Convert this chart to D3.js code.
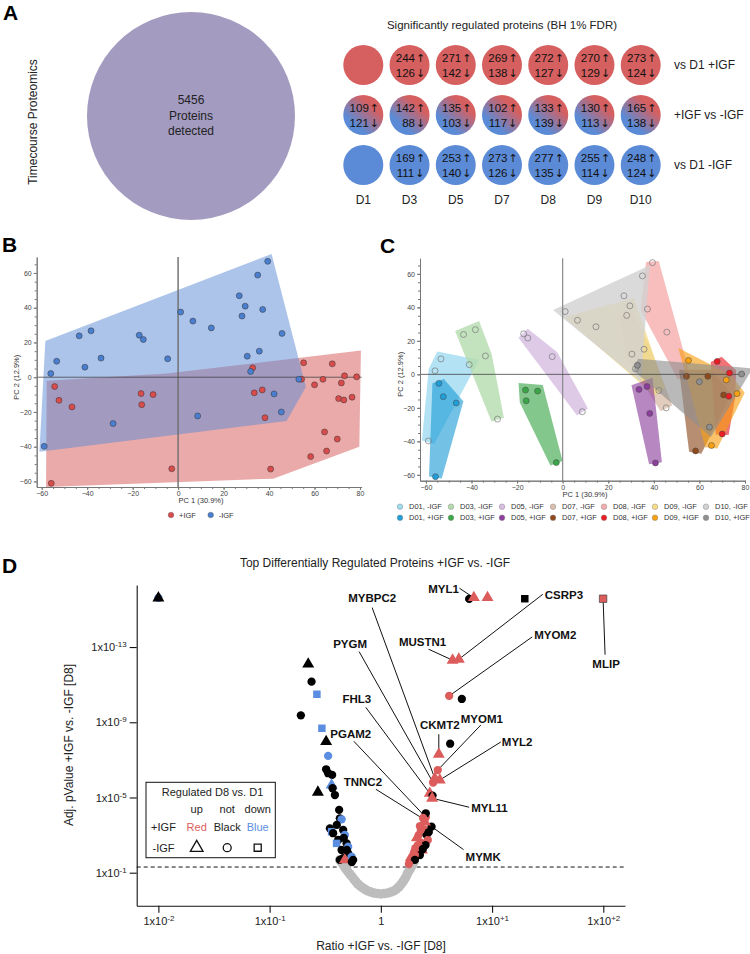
<!DOCTYPE html>
<html>
<head>
<meta charset="utf-8">
<script src="https://cdn.jsdelivr.net/npm/d3@7"></script>
<style>
  body { margin: 0; background: #fff; }
  svg { font-family: "Liberation Sans", Arial, Helvetica, sans-serif; }
</style>
</head>
<body>
<div></div>
<script>
const w = 750;
const h = 954;

// ---------- panel A data
const days = ['D1', 'D3', 'D5', 'D7', 'D8', 'D9', 'D10'];
const rowLabels = ['vs D1 +IGF', '+IGF vs -IGF', 'vs D1 -IGF'];
const upPlus = [null, 244, 271, 269, 272, 270, 273];
const downPlus = [null, 126, 142, 138, 127, 129, 124];
const upCompare = [109, 142, 135, 102, 133, 130, 165];
const downCompare = [121, 88, 103, 117, 139, 113, 138];
const upMinus = [null, 169, 253, 273, 277, 255, 248];
const downMinus = [null, 111, 140, 126, 135, 114, 124];
const proteinsDetected = 5456;

// ---------- panel B / C data (PC1, PC2 per day, 4 replicates)
const pcaDays = ['D01', 'D03', 'D05', 'D07', 'D08', 'D09', 'D10'];
const pc1Minus = [
  [-58.9, -56, -53.4, -41],
  [-43.5, -38.3, -33.9, -28.6],
  [-17.1, -15.3, -4.6, 8.6],
  [28.1, 30.4, 35.7, 45.4],
  [39.4, 37.2, 45.7, 53.1],
  [6.5, 14.6, 29.5, 42.2],
  [1.1, 26.9, 35, 31.9]
];
const pc2Minus = [
  [-39.8, 2.1, 9.2, 5.8],
  [23.8, 26.7, 11, -26.7],
  [24.2, 21.7, 10.6, -22.3],
  [35.2, 12.1, 15, -20],
  [66.7, 39, 25.2, -1.2],
  [32.3, 28.4, 40.9, -9.6],
  [37.5, 46.9, 58.8, 3.3]
];
const pc1Plus = [
  [-54.3, -52.4, -46.7, -55.8],
  [-16.3, -16, -11, -2.8],
  [33.5, 37, 38.2, 40.7],
  [54.3, 58.3, 63.7, 70.6],
  [67.8, 73.2, 72.9, 70],
  [55.2, 71.8, 76.5, 65.3],
  [32.8, 60, 64.4, 78.5]
];
const pc2Plus = [
  [-5.4, -13.3, -17.1, -61.1],
  [-9.4, -15.8, -10, -52.7],
  [-9, -7.3, -23.3, -52.9],
  [-1.2, -45.7, -1.2, -12.3],
  [7.7, 0.8, -13.1, -35.6],
  [8.3, -3.3, -11.5, -42.5],
  [5.4, -4.4, -31.5, 0.2]
];
// group outlines of panel B
const hullMinusPC1 = [-58.4, 41.1, 56.2, 47.7, -61];
const hullMinusPC2 = [20.8, 70.9, -5.6, -25.2, -42.9];
const hullPlusPC1 = [-57.8, -5, 80.4, 79.7, 41.8, -58.1];
const hullPlusPC2 = [-2.1, 2.1, 15.4, -40, -58.4, -63.2];

// ---------- panel D data (log10 ratio, -log10 adj. p, regulation +IGF / -IGF)
const nsLogRatio = [-0.369, -0.355, -0.342, -0.328, -0.315, -0.297, -0.279, -0.261, -0.243, -0.225, -0.207,
  -0.185, -0.162, -0.14, -0.117, -0.09, -0.063, -0.03, 0,
  0.03, 0.063, 0.09, 0.117, 0.14, 0.162, 0.18, 0.198, 0.212, 0.225, 0.238, 0.252, 0.266, 0.279, 0.297];
const nsNegLogP = [1.68, 1.57, 1.46, 1.33, 1.2, 1.06, 0.93, 0.8, 0.66, 0.53, 0.4,
  0.29, 0.19, 0.1, 0.03, -0.03, -0.08, -0.11, -0.13,
  -0.11, -0.08, -0.03, 0.03, 0.13, 0.24, 0.37, 0.51, 0.64, 0.77, 0.93, 1.09, 1.22, 1.36, 1.57];

const sigLogRatio = [-2.0, -2.0, -0.653, -0.623, -0.575, -0.719, -0.53, -0.492, -0.474, -0.492, -0.474, -0.438,
  -0.566, -0.443, -0.434, -0.413, -0.375, -0.369, -0.353, -0.458, -0.339, -0.443, -0.429, -0.324, -0.384,
  -0.308, -0.398, -0.353, -0.294, -0.294, -0.339, -0.263, -0.249, -0.369, -0.324, -0.396, -0.333, -0.306, -0.261,
  0.794, 0.836, 0.959, 1.294, 1.998, 0.645, 0.701, 0.614, 0.728, 0.623, 0.521, 0.512, 0.485, 0.53, 0.47,
  0.44, 0.465, 0.461,
  0.387, 0.404, 0.34, 0.36, 0.3, 0.27, 0.39, 0.31,
  0.404, 0.38, 0.456, 0.396, 0.411, 0.36, 0.422, 0.402, 0.333, 0.369, 0.351, 0.306, 0.279, 0.306, 0.252,
  0.324, 0.351, 0.378, 0.431];
const sigNegLogP = [15.61, 15.61, 12.09, 11.16, 10.49, 9.37, 8.68, 7.97, 7.21, 6.5, 6.29, 6.2,
  5.28, 5.66, 5.49, 5.13, 4.34, 3.89, 3.84, 3.36, 3.27, 3.18, 3.1, 3.01, 2.74,
  2.56, 2.56, 2.21, 2.38, 2.03, 1.77, 1.85, 1.68, 1.68, 1.68, 3.54, 2.85, 2.21, 1.57,
  15.56, 15.63, 15.63, 15.57, 15.57, 12.3, 12.35, 10.4, 10.24, 7.86, 7.3, 6.46, 6.02, 5.93, 5.79,
  5.22, 5.1, 4.96,
  3.84, 3.95, 3.0, 2.6, 2.1, 1.8, 3.3, 2.3,
  4.16, 3.91, 3.45, 3.7, 3.01, 3.28, 2.74, 2.47, 2.47, 2.21, 1.94, 1.94, 1.68, 1.68, 1.46,
  2.85, 3.48, 2.26, 3.16];
const sigPlusReg = ['down', 'not', 'not', 'not', 'down', 'not', 'down', 'not', 'down', 'not', 'not', 'not',
  'not', 'down', 'not', 'not', 'not', 'not', 'down', 'not', 'not', 'down', 'not', 'down', 'not',
  'not', 'down', 'not', 'down', 'not', 'not', 'down', 'not', 'not', 'up', 'not', 'not', 'not', 'not',
  'not', 'up', 'up', 'not', 'up', 'up', 'up', 'up', 'not', 'not', 'up', 'up', 'up', 'up', 'up',
  'up', 'not', 'up',
  'up', 'up', 'up', 'up', 'up', 'up', 'up', 'up',
  'not', 'up', 'not', 'up', 'not', 'up', 'up', 'not', 'up', 'up', 'not', 'up', 'up', 'not', 'up',
  'up', 'up', 'not', 'not'];
const sigMinusReg = ['not', 'up', 'up', 'not', 'down', 'not', 'down', 'up', 'not', 'not', 'not', 'not',
  'up', 'up', 'not', 'not', 'not', 'not', 'not', 'not', 'not', 'down', 'not', 'not', 'not',
  'not', 'down', 'not', 'not', 'not', 'not', 'not', 'not', 'not', 'up', 'not', 'not', 'not', 'not',
  'not', 'up', 'up', 'down', 'down', 'up', 'up', 'not', 'not', 'not', 'up', 'not', 'up', 'up', 'not',
  'up', 'not', 'up',
  'not', 'not', 'not', 'not', 'not', 'up', 'not', 'not',
  'not', 'not', 'not', 'up', 'not', 'not', 'not', 'not', 'not', 'up', 'not', 'not', 'not', 'not', 'not',
  'up', 'not', 'not', 'not'];

const geneNames = ['MYBPC2', 'PYGM', 'FHL3', 'PGAM2', 'TNNC2', 'MYL1', 'CSRP3', 'MUSTN1', 'MYOM2', 'MLIP',
  'CKMT2', 'MYOM1', 'MYL2', 'MYL11', 'MYMK'];
const geneLogRatio = [0.479, 0.47, 0.44, 0.404, 0.387, 0.815, 0.701, 0.645, 0.614, 1.998,
  0.521, 0.512, 0.53, 0.461, 0.456];
const geneNegLogP = [6.11, 5.79, 5.22, 3.95, 3.84, 15.7, 12.35, 12.3, 10.4, 15.57,
  7.3, 6.46, 5.93, 4.96, 3.45];

// ---------- layout of gene labels: text offset, anchor, line start offset (px from point)
const geneLayout = [
  [-62, -179, 'middle', -62, -169], [-83, -139, 'middle', -74, -131], [-73, -94, 'middle', -64, -86],
  [-75, -83, 'middle', -72, -76], [-61, -37, 'middle', -48, -30], [-28, -7, 'middle', -12, -8],
  [86, -64, 'start', 84, -65], [-30, -18, 'middle', -24, -11], [85, -61, 'start', 83, -59],
  [3, 65, 'middle', 2, 56], [1, -29, 'middle', 0, -20], [44, -51, 'middle', 43, -45],
  [62, -38, 'start', 61, -38], [39, 10, 'start', 37, 9], [34, 30, 'start', 32, 23]
];

const red = '#d65f5f';
const blue = '#5b8bd6';

const svg = d3.select('body').select('div').append('svg')
  .attr('width', w).attr('height', h);

// panel letters
[['A', 3, 20], ['B', 2, 252], ['C', 380, 253], ['D', 2, 573]].forEach(([t, x, y]) => {
  svg.append('text').attr('x', x).attr('y', y).attr('font-size', 21).attr('font-weight', 'bold').text(t);
});

// ================= A
svg.append('text')
  .attr('transform', 'translate(37,122) rotate(-90)')
  .attr('text-anchor', 'middle').attr('font-size', 12).attr('fill', '#222')
  .text('Timecourse Proteomics');

svg.append('circle').attr('cx', 191).attr('cy', 116).attr('r', 104).attr('fill', '#a39bc0');
['' + proteinsDetected, 'Proteins', 'detected'].forEach((t, i) => {
  svg.append('text').attr('x', 191).attr('y', 104 + i * 15.5)
    .attr('text-anchor', 'middle').attr('font-size', 12).attr('fill', '#222').text(t);
});

const defs = svg.append('defs');
const grad = defs.append('linearGradient').attr('id', 'mix')
  .attr('x1', '85%').attr('y1', '10%').attr('x2', '15%').attr('y2', '90%');
grad.append('stop').attr('offset', '0.2').attr('stop-color', red);
grad.append('stop').attr('offset', '0.8').attr('stop-color', blue);

const colX = d3.scalePoint().domain(days).range([363.3, 640.7]);
const rowY = d3.scalePoint().domain(rowLabels).range([65, 165]);
const rows = [
  { label: rowLabels[0], fill: red, up: upPlus, down: downPlus },
  { label: rowLabels[1], fill: 'url(#mix)', up: upCompare, down: downCompare },
  { label: rowLabels[2], fill: blue, up: upMinus, down: downMinus }
];

svg.append('text').attr('x', 502).attr('y', 29).attr('text-anchor', 'middle')
  .attr('font-size', 11.5).attr('fill', '#222').text('Significantly regulated proteins (BH 1% FDR)');

function countLabel(g, x, y, n, arrow) {
  const t = g.append('text').attr('x', x).attr('y', y).attr('dy', '0.35em')
    .attr('text-anchor', 'middle').attr('font-size', 11.5).attr('fill', '#111');
  t.append('tspan').text((n < 100 ? '\u2007' : '') + n);
  t.append('tspan').attr('font-family', '"DejaVu Sans", sans-serif').attr('font-size', 11)
    .attr('dx', 1).text(arrow);
}

rows.forEach((row) => {
  const g = svg.append('g');
  g.selectAll('circle').data(days).enter().append('circle')
    .attr('cx', (d) => colX(d)).attr('cy', rowY(row.label)).attr('r', 20)
    .attr('fill', row.fill);
  days.forEach((d, i) => {
    if (row.up[i] === null) return;
    countLabel(g, colX(d) + 1, rowY(row.label) - 7.5, row.up[i], '\u2191');
    countLabel(g, colX(d) + 1, rowY(row.label) + 7.5, row.down[i], '\u2193');
  });
  g.append('text').attr('x', 674).attr('y', rowY(row.label)).attr('dy', '0.35em')
    .attr('font-size', 12).attr('fill', '#222').text(row.label);
});
svg.selectAll('.daylab').data(days).enter().append('text')
  .attr('x', (d) => colX(d)).attr('y', 200).attr('dy', '0.35em')
  .attr('text-anchor', 'middle').attr('font-size', 12).attr('fill', '#222').text((d) => d);

// ================= helpers for B / C
function pcaAxes(g, x, y) {
  const xr = x.range();
  const yr = y.range();
  g.append('g').attr('transform', `translate(0,${yr[0]})`)
    .call(d3.axisBottom(x).tickValues(d3.range(-60, 81, 5)).tickSize(2).tickFormat('').tickSizeOuter(0));
  g.append('g').attr('transform', `translate(0,${yr[0]})`)
    .call(d3.axisBottom(x).tickValues(d3.range(-60, 81, 20)).tickSize(3).tickPadding(1).tickSizeOuter(0));
  g.append('g').attr('transform', `translate(${xr[0]},0)`)
    .call(d3.axisLeft(y).tickValues(d3.range(-60, 66, 5)).tickSize(2).tickFormat('').tickSizeOuter(0));
  g.append('g').attr('transform', `translate(${xr[0]},0)`)
    .call(d3.axisLeft(y).tickValues(d3.range(-60, 61, 20)).tickSize(3).tickPadding(2).tickSizeOuter(0));
  g.selectAll('.domain, .tick line').attr('stroke', '#777');
  g.selectAll('.tick text').attr('font-size', 7).attr('fill', '#444')
    .attr('font-family', '"Liberation Sans", Arial, sans-serif');
}

function zeroLines(g, x, y, vColor, vWidth) {
  g.append('line').attr('x1', x(0)).attr('x2', x(0))
    .attr('y1', y.range()[1]).attr('y2', y.range()[0])
    .attr('stroke', vColor).attr('stroke-width', vWidth);
  g.append('line').attr('x1', x.range()[0]).attr('x2', x.range()[1])
    .attr('y1', y(0)).attr('y2', y(0)).attr('stroke', '#444').attr('stroke-width', 0.8);
}

// ================= B
const xB = d3.scaleLinear().domain([-62.2, 80.7]).range([36.7, 361.6]);
const yB = d3.scaleLinear().domain([-63.2, 69.2]).range([487, 257]);
const gB = svg.append('g');
const line = d3.line().x((d) => xB(d[0])).y((d) => yB(d[1]));
gB.append('path').attr('d', line(d3.zip(hullPlusPC1, hullPlusPC2)) + 'Z')
  .attr('fill', '#d65555').attr('opacity', 0.5);
gB.append('path').attr('d', line(d3.zip(hullMinusPC1, hullMinusPC2)) + 'Z')
  .attr('fill', '#5b8ad6').attr('opacity', 0.5);
zeroLines(gB, xB, yB, 'rgba(110,110,110,0.8)', 1.8);
pcaAxes(gB, xB, yB);

const minusPts = d3.merge(pc1Minus.map((xs, i) => xs.map((v, j) => [v, pc2Minus[i][j]])));
const plusPts = d3.merge(pc1Plus.map((xs, i) => xs.map((v, j) => [v, pc2Plus[i][j]])));
[[plusPts, '#d94c4c'], [minusPts, '#4a7fd0']].forEach(([pts, c]) => {
  gB.append('g').selectAll('circle').data(pts).enter().append('circle')
    .attr('cx', (d) => xB(d[0])).attr('cy', (d) => yB(d[1])).attr('r', 3)
    .attr('fill', c).attr('stroke', '#333').attr('stroke-width', 0.5);
});
gB.append('text').attr('x', 201).attr('y', 503).attr('text-anchor', 'middle')
  .attr('font-size', 7.5).attr('fill', '#333').text('PC 1 (30.9%)');
gB.append('text').attr('transform', `translate(19,${yB(0)}) rotate(-90)`).attr('text-anchor', 'middle')
  .attr('font-size', 7.5).attr('fill', '#333').text('PC 2 (12.9%)');
[['+IGF', '#d94c4c', 171], ['-IGF', '#4a7fd0', 210.7]].forEach(([t, c, x]) => {
  gB.append('circle').attr('cx', x).attr('cy', 515).attr('r', 2.8).attr('fill', c)
    .attr('stroke', '#555').attr('stroke-width', 0.4);
  gB.append('text').attr('x', x + 8).attr('y', 515).attr('dy', '0.35em')
    .attr('font-size', 7.5).attr('fill', '#333').text(t);
});

// ================= C
const xC = d3.scaleLinear().domain([-62.6, 80]).range([420, 745]);
const yC = d3.scaleLinear().domain([-63.5, 69.3]).range([480.7, 258.3]);
const gC = svg.append('g');
const plusColors = ['#1f9ed8', '#3aa648', '#8c3f9c', '#8e4a1c', '#ea1c24', '#f7a010', '#8f8f8f'];
const minusColors = ['#9fdcf2', '#b5dcae', '#d7bde2', '#dcc0ad', '#f7adad', '#f6dd86', '#d2d2d2'];

function hullPath(xs, ys) {
  const hull = d3.polygonHull(xs.map((v, i) => [xC(v), yC(ys[i])]));
  return 'M' + hull.join('L') + 'Z';
}
pcaDays.forEach((d, i) => {
  gC.append('path').attr('d', hullPath(pc1Minus[i], pc2Minus[i]))
    .attr('fill', minusColors[i]).attr('stroke', minusColors[i]).attr('stroke-width', 13)
    .attr('stroke-linejoin', 'miter').attr('stroke-miterlimit', 2.5).attr('opacity', 0.8);
});
pcaDays.forEach((d, i) => {
  gC.append('path').attr('d', hullPath(pc1Plus[i], pc2Plus[i]))
    .attr('fill', plusColors[i]).attr('stroke', plusColors[i]).attr('stroke-width', 13)
    .attr('stroke-linejoin', 'miter').attr('stroke-miterlimit', 2.5).attr('opacity', 0.62);
});
zeroLines(gC, xC, yC, '#888', 1.2);
pcaAxes(gC, xC, yC);
pcaDays.forEach((d, i) => {
  gC.append('g').selectAll('circle').data(d3.zip(pc1Minus[i], pc2Minus[i])).enter().append('circle')
    .attr('cx', (p) => xC(p[0])).attr('cy', (p) => yC(p[1])).attr('r', 3)
    .attr('fill', 'none').attr('stroke', '#777').attr('stroke-width', 0.7);
  gC.append('g').selectAll('circle').data(d3.zip(pc1Plus[i], pc2Plus[i])).enter().append('circle')
    .attr('cx', (p) => xC(p[0])).attr('cy', (p) => yC(p[1])).attr('r', 3)
    .attr('fill', plusColors[i]).attr('stroke', '#444').attr('stroke-width', 0.5);
});
gC.append('text').attr('x', 585).attr('y', 497).attr('text-anchor', 'middle')
  .attr('font-size', 7.5).attr('fill', '#333').text('PC 1 (30.9%)');
gC.append('text').attr('transform', `translate(403,${yC(0)}) rotate(-90)`).attr('text-anchor', 'middle')
  .attr('font-size', 7.5).attr('fill', '#333').text('PC 2 (12.9%)');
const legX = d3.scalePoint().domain(pcaDays).range([400, 706]);
pcaDays.forEach((d, i) => {
  [[minusColors[i], ', -IGF', 506.7], [plusColors[i], ', +IGF', 517.7]].forEach(([c, s, y]) => {
    gC.append('circle').attr('cx', legX(d)).attr('cy', y).attr('r', 2.8).attr('fill', c)
      .attr('stroke', '#777').attr('stroke-width', 0.4);
    gC.append('text').attr('x', legX(d) + 9).attr('y', y).attr('dy', '0.35em')
      .attr('font-size', 7.5).attr('fill', '#333').text(d + s);
  });
});

// ================= D
const xD = d3.scaleLinear().domain([-2.195, 2.195]).range([136.7, 625]);
const yD = d3.scaleLinear().domain([-0.755, 16.3]).range([905.7, 585]);
const gD = svg.append('g');

svg.append('text').attr('x', 375).attr('y', 567).attr('text-anchor', 'middle')
  .attr('font-size', 12).attr('fill', '#222').text('Top Differentially Regulated Proteins +IGF vs. -IGF');

function sciLabel(sel, exp, plusSign) {
  sel.each(function () {
    const t = d3.select(this);
    t.text(null);
    if (exp(t.datum()) === 0) { t.text('1'); return; }
    const e = exp(t.datum());
    t.append('tspan').text('1x10');
    t.append('tspan').attr('dy', '-0.5em').attr('font-size', 8)
      .text((e > 0 && plusSign ? '+' : '') + e);
  });
}

const xAxisD = gD.append('g').attr('transform', `translate(0,${yD.range()[0]})`)
  .call(d3.axisBottom(xD).tickValues([-2, -1, 0, 1, 2]).tickSize(7).tickPadding(5).tickSizeOuter(0));
xAxisD.selectAll('.tick text').call(sciLabel, (d) => d, true);
const yAxisD = gD.append('g').attr('transform', `translate(${xD.range()[0]},0)`)
  .call(d3.axisLeft(yD).tickValues([1, 5, 9, 13]).tickSize(7).tickPadding(3).tickSizeOuter(0));
yAxisD.selectAll('.tick text').call(sciLabel, (d) => -d, false);
gD.selectAll('.domain, .tick line').attr('stroke', '#111').attr('stroke-width', 1.1);
gD.selectAll('.tick text').attr('font-size', 11).attr('fill', '#222')
  .attr('font-family', '"Liberation Sans", Arial, sans-serif');

gD.append('text').attr('transform', 'translate(73,745) rotate(-90)').attr('text-anchor', 'middle')
  .attr('font-size', 12).attr('fill', '#222').text('Adj. pValue +IGF vs. -IGF [D8]');
gD.append('text').attr('x', 381).attr('y', 950).attr('text-anchor', 'middle')
  .attr('font-size', 12).attr('fill', '#222').text('Ratio +IGF vs. -IGF [D8]');

// threshold
gD.append('line').attr('x1', xD.range()[0]).attr('x2', xD.range()[1])
  .attr('y1', yD(-Math.log10(0.05))).attr('y2', yD(-Math.log10(0.05)))
  .attr('stroke', '#111').attr('stroke-width', 1).attr('stroke-dasharray', '4,3');

// non significant
gD.append('g').selectAll('circle').data(d3.zip(nsLogRatio, nsNegLogP)).enter().append('circle')
  .attr('cx', (d) => xD(d[0])).attr('cy', (d) => yD(d[1])).attr('r', 4.8).attr('fill', '#bdbdbd');

// gene label lines (under points)
const genes = geneNames.map((n, i) => ({ name: n, x: xD(geneLogRatio[i]), y: yD(geneNegLogP[i]), lay: geneLayout[i] }));
gD.append('g').selectAll('line').data(genes).enter().append('line')
  .attr('x1', (d) => d.x + d.lay[3]).attr('y1', (d) => d.y + d.lay[4])
  .attr('x2', (d) => d.x).attr('y2', (d) => d.y)
  .attr('stroke', '#111').attr('stroke-width', 1);

const shapeOf = { up: d3.symbolTriangle, not: d3.symbolCircle, down: d3.symbolSquare };
const sizeOf = { up: 62, not: 54, down: 56 };
const colorOf = { up: '#dc5c5c', not: '#000', down: '#5b8ee0' };
const sig = sigLogRatio.map((v, i) => ({ x: v, y: sigNegLogP[i], plus: sigPlusReg[i], minus: sigMinusReg[i] }));
gD.append('g').selectAll('path').data(sig).enter().append('path')
  .attr('transform', (d) => `translate(${xD(d.x)},${yD(d.y)})`)
  .attr('d', (d) => d3.symbol(shapeOf[d.minus], sizeOf[d.minus])())
  .attr('fill', (d) => colorOf[d.plus])
  .attr('stroke', (d) => (d.minus === 'down' && d.plus === 'up' ? '#333' : 'none'))
  .attr('stroke-width', 0.6);

gD.append('g').selectAll('text').data(genes).enter().append('text')
  .attr('x', (d) => d.x + d.lay[0]).attr('y', (d) => d.y + d.lay[1]).attr('dy', '0.35em')
  .attr('text-anchor', (d) => d.lay[2])
  .attr('font-size', 11.5).attr('font-weight', 'bold').attr('fill', '#111')
  .text((d) => d.name);

// legend
const lg = gD.append('g');
lg.append('rect').attr('x', 146).attr('y', 782.3).attr('width', 129.3).attr('height', 75.4)
  .attr('fill', '#fff').attr('stroke', '#111').attr('stroke-width', 1);
const legCols = ['up', 'not', 'down'];
const legColX = d3.scalePoint().domain(legCols).range([196.7, 257.7]);
lg.append('text').attr('x', 212.5).attr('y', 792.5).attr('dy', '0.35em').attr('text-anchor', 'middle')
  .attr('font-size', 11).attr('fill', '#222').text('Regulated D8 vs. D1');
legCols.forEach((c) => {
  lg.append('text').attr('x', legColX(c)).attr('y', 809).attr('dy', '0.35em').attr('text-anchor', 'middle')
    .attr('font-size', 11).attr('fill', '#222').text(c);
  lg.append('text').attr('x', legColX(c)).attr('y', 827.3).attr('dy', '0.35em').attr('text-anchor', 'middle')
    .attr('font-size', 11).attr('fill', c === 'not' ? '#222' : colorOf[c])
    .text({ up: 'Red', not: 'Black', down: 'Blue' }[c]);
  lg.append('path').attr('transform', `translate(${legColX(c)},847.7)`)
    .attr('d', d3.symbol(shapeOf[c], c === 'up' ? 70 : 50)())
    .attr('fill', 'none').attr('stroke', '#111').attr('stroke-width', 1.3);
});
[['+IGF', 827.3], ['-IGF', 847.7]].forEach(([t, y]) => {
  lg.append('text').attr('x', 163.5).attr('y', y).attr('dy', '0.35em').attr('text-anchor', 'middle')
    .attr('font-size', 11).attr('fill', '#222').text(t);
});
</script>
</body>
</html>
